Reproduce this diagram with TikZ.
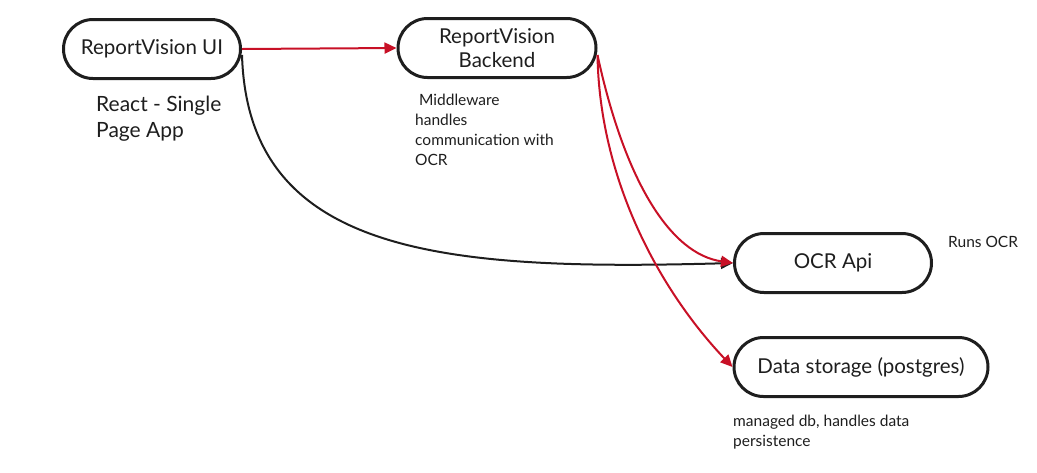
\documentclass[tikz,border=0pt]{standalone}
\usepackage{fontspec}
\setmainfont{Lato}
\usetikzlibrary{arrows.meta, shapes.misc}
\definecolor{linkred}{RGB}{200,16,38}
\definecolor{ink}{RGB}{30,30,30}

\begin{document}
\begin{tikzpicture}[x=1pt, y=-1pt,
                service/.style={rounded rectangle, draw=ink, line width=3pt, minimum height=59pt,
                                inner sep=0pt, align=center, text=ink, font=\fontsize{20.5}{24}\selectfont},
                note/.style={anchor=north west, inner sep=0pt, align=left, text=ink},
                big note/.style={note, font=\fontsize{21}{26}\selectfont},
                small note/.style={note, font=\fontsize{15.5}{20}\selectfont},
                link/.style={-{Triangle[length=12pt, width=11pt]}, line width=2pt}]
                \useasboundingbox (0,0) rectangle (1037,472);

                % Services
                \node[service, minimum width=177pt] (ui) at (152,49) {ReportVision UI};
                \node[service, minimum width=198pt] (backend) at (497,48) {ReportVision\\Backend};
                \node[service, minimum width=197pt] (ocr) at (833,263) {OCR Api};
                \node[service, minimum width=254pt] (db) at (861,367) {Data storage (postgres)};

                % Notes below / beside the services
                \node[big note] (uinote) at (96,96) {React - Single\\Page App};
                \node[small note] (backendnote) at (415,94) {\ Middleware\\handles\\communication with\\OCR};
                \node[small note] (ocrnote) at (948,236) {Runs OCR};
                \node[small note] (dbnote) at (733,415) {managed db, handles data\\persistence};

                % Connections
                \draw[link, linkred] (ui.east) -- (backend.west);
                \draw[link, ink] ([yshift=-6pt]ui.east) .. controls +(6,200) and +(-290,8) .. (ocr.west);
                \draw[link, linkred] ([yshift=-7pt]backend.east) .. controls +(27,125) and +(-63,-9) .. (ocr.west);
                \draw[link, linkred] ([yshift=-7pt]backend.east) .. controls +(2,125) and +(-73,-77) .. (db.west);
            \end{tikzpicture}
\end{document}
